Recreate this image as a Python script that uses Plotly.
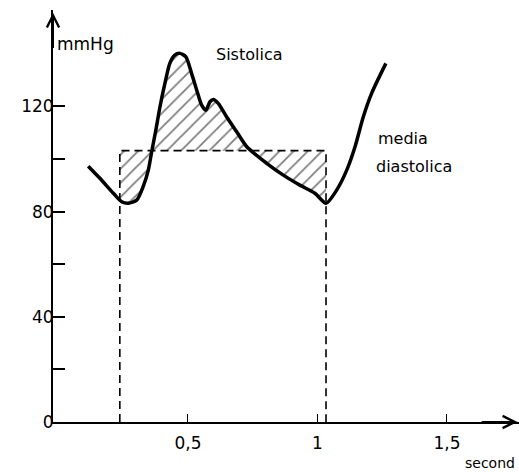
import numpy as np
import plotly.graph_objects as go

# ---- data ----
time_s = [0.115, 0.160, 0.212, 0.244, 0.270, 0.302, 0.327, 0.347, 0.360, 0.376,
          0.392, 0.411, 0.430, 0.449, 0.469, 0.492, 0.514, 0.534, 0.553, 0.569,
          0.585, 0.598, 0.617, 0.649, 0.688, 0.727, 0.804, 0.868, 0.932, 0.990,
          1.033, 1.074, 1.113, 1.145, 1.177, 1.209, 1.264]
pressure = [97.3, 92.7, 87.0, 83.8, 83.2, 84.4, 89.5, 95.8, 102.8, 111.0,
            119.9, 128.8, 136.4, 139.5, 140.2, 138.9, 132.6, 126.2, 120.5, 118.6,
            121.8, 122.7, 121.2, 116.1, 110.4, 104.7, 98.4, 93.9, 90.1, 87.0,
            83.2, 88.2, 95.8, 104.7, 116.1, 125.0, 136.4]
mean_pressure = 103.2
t_start, t_end = 0.237, 1.033

x_tickvals = [0.5, 1.0, 1.5]
x_ticktext = ["0,5", "1", "1,5"]
y_tickvals = [0, 20, 40, 60, 80, 100, 120]
y_ticktext = ["0", "", "40", "", "80", "", "120"]

x_range = [-0.021, 1.778]
y_range = [0, 156.7]

FONT = "DejaVu Sans"

t = np.array(time_s)
p = np.array(pressure)

fig = go.Figure()

# hatched area between the curve and the mean line
seg_mask = (t > t_start) & (t <= t_end)
seg_t = np.concatenate([[t_start], t[seg_mask]])
seg_p = np.concatenate([[np.interp(t_start, t, p)], p[seg_mask]])

fig.add_trace(go.Scatter(x=[t_start, t_end], y=[mean_pressure, mean_pressure],
                         mode="lines", line=dict(width=0, color="rgba(0,0,0,0)"),
                         hoverinfo="skip", showlegend=False))
fig.add_trace(go.Scatter(x=seg_t, y=seg_p, mode="lines",
                         line=dict(width=0, color="rgba(0,0,0,0)", shape="spline", smoothing=0.7),
                         fill="tonexty", fillcolor="rgba(0,0,0,0)",
                         fillpattern=dict(shape="/", size=10, solidity=0.18,
                                          fgcolor="black", bgcolor="rgba(0,0,0,0)"),
                         hoverinfo="skip", showlegend=False))

# dashed mean line and verticals
fig.add_trace(go.Scatter(x=[t_start, t_start, t_end, t_end],
                         y=[0, mean_pressure, mean_pressure, 0],
                         mode="lines", line=dict(color="black", width=1.6, dash="8px,5px"),
                         hoverinfo="skip", showlegend=False))

# pressure curve
fig.add_trace(go.Scatter(x=time_s, y=pressure, mode="lines",
                         line=dict(color="black", width=3.5, shape="spline", smoothing=0.7),
                         showlegend=False))

axis_font = dict(family=FONT, size=17, color="black")

fig.update_layout(
    width=519, height=472,
    margin=dict(l=53, r=0, t=10, b=50),
    paper_bgcolor="white", plot_bgcolor="white",
    xaxis=dict(range=x_range, showgrid=False, zeroline=False, showline=True,
               linecolor="black", linewidth=2, ticks="inside", ticklen=8, tickwidth=1,
               tickcolor="black", tickvals=x_tickvals, ticktext=x_ticktext,
               tickfont=axis_font, ticklabelstandoff=5),
    yaxis=dict(range=y_range, showgrid=False, zeroline=False, showline=True,
               linecolor="black", linewidth=2, ticks="inside", ticklen=12, tickwidth=1.5,
               tickcolor="black", tickvals=y_tickvals, ticktext=y_ticktext,
               tickfont=axis_font, ticklabelstandoff=-6),
)

# axis arrows
fig.add_annotation(x=x_range[0], y=y_range[1] - 1, ax=x_range[0], ay=y_range[1] - 15,
                   xref="x", yref="y", axref="x", ayref="y", text="", showarrow=True,
                   arrowhead=5, arrowsize=1.2, arrowwidth=2, arrowcolor="black")
fig.add_annotation(x=x_range[1] - 0.006, y=0, ax=x_range[1] - 0.15, ay=0,
                   xref="x", yref="y", axref="x", ayref="y", text="", showarrow=True,
                   arrowhead=5, arrowsize=1.2, arrowwidth=2, arrowcolor="black")

label_font = dict(family=FONT, size=16, color="black")
fig.add_annotation(text="mmHg", x=0.005, y=0.917, xref="paper", yref="paper",
                   xanchor="left", yanchor="middle", showarrow=False,
                   font=dict(family=FONT, size=17, color="black"))
fig.add_annotation(text="Sistolica", x=0.4217, y=0.893, xref="paper", yref="paper",
                   xanchor="center", yanchor="middle", showarrow=False, font=label_font)
fig.add_annotation(text="media", x=0.694, y=0.687, xref="paper", yref="paper",
                   xanchor="left", yanchor="middle", showarrow=False, font=label_font)
fig.add_annotation(text="diastolica", x=0.689, y=0.620, xref="paper", yref="paper",
                   xanchor="left", yanchor="middle", showarrow=False, font=label_font)
fig.add_annotation(text="second", x=0.996, y=-0.0995, xref="paper", yref="paper",
                   xanchor="right", yanchor="middle", showarrow=False,
                   font=dict(family=FONT, size=14, color="black"))

fig.write_html("out.html", config={"displayModeBar": False},
               post_script="document.body.style.margin='0';")
